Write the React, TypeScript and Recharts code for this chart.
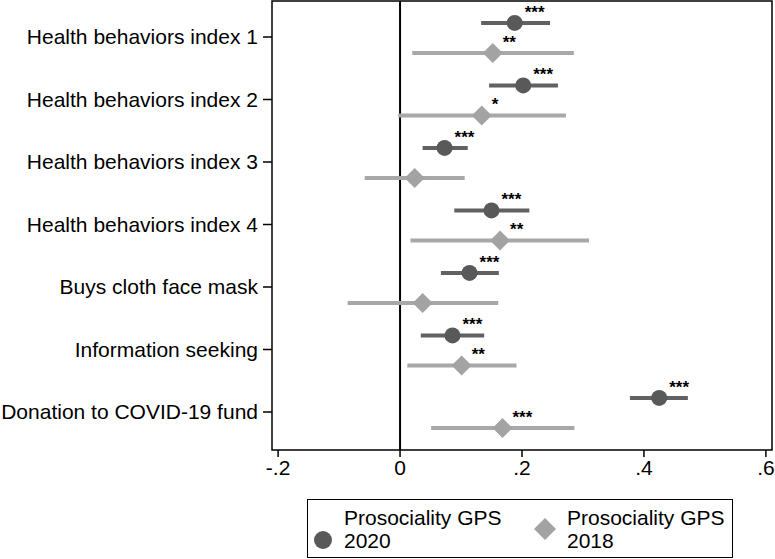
import React from 'react';
import {
  ScatterChart,
  Scatter,
  XAxis,
  YAxis,
  ErrorBar,
  ReferenceLine,
  ReferenceArea
} from 'recharts';

const categories = [
  'Health behaviors index 1',
  'Health behaviors index 2',
  'Health behaviors index 3',
  'Health behaviors index 4',
  'Buys cloth face mask',
  'Information seeking',
  'Donation to COVID-19 fund'
];

// Prosociality GPS 2020: point estimate and 95% CI
const est2020 = [0.188, 0.202, 0.073, 0.15, 0.114, 0.086, 0.425];
const lo2020 = [0.133, 0.146, 0.037, 0.089, 0.067, 0.034, 0.377];
const hi2020 = [0.246, 0.259, 0.111, 0.212, 0.162, 0.138, 0.472];
const stars2020 = ['***', '***', '***', '***', '***', '***', '***'];

// Prosociality GPS 2018
const est2018 = [0.152, 0.134, 0.024, 0.164, 0.037, 0.101, 0.168];
const lo2018 = [0.02, -0.003, -0.058, 0.017, -0.086, 0.012, 0.051];
const hi2018 = [0.285, 0.272, 0.106, 0.31, 0.161, 0.191, 0.286];
const stars2018 = ['**', '*', '', '**', '', '**', '***'];

const xTicks = [-0.2, 0, 0.2, 0.4, 0.6];
const yTicks = [1, 2, 3, 4, 5, 6, 7];

const FONT = '"Liberation Sans", Arial, sans-serif';
const DARK = '#595959';
const DARK_LINE = '#616161';
const LIGHT = '#a3a3a3';
const LIGHT_LINE = '#a8a8a8';

// small vertical offsets so both estimates sit around the category tick
const data2020 = est2020.map((v, i) => ({
  x: v,
  y: i + 1 - 0.225,
  err: [v - lo2020[i], hi2020[i] - v],
  stars: stars2020[i]
}));
const data2018 = est2018.map((v, i) => ({
  x: v,
  y: i + 1 + 0.255,
  err: [v - lo2018[i], hi2018[i] - v],
  stars: stars2018[i]
}));

const fmtX = (v: number) => (v === 0 ? '0' : v.toFixed(1).replace('0.', '.'));

const Stars = ({ cx, cy, text }: any) =>
  text ? (
    <text x={cx + 10} y={cy - 5} fontSize={17} fontWeight="bold" fontFamily={FONT} fill="#000">
      {text}
    </text>
  ) : null;

const CircleMark = (p: any) => (
  <g>
    <circle cx={p.cx} cy={p.cy} r={8} fill={DARK} />
    <Stars cx={p.cx} cy={p.cy} text={p.payload.stars} />
  </g>
);

const DiamondMark = (p: any) => {
  const d = 10;
  return (
    <g>
      <polygon
        points={`${p.cx},${p.cy - d} ${p.cx + d},${p.cy} ${p.cx},${p.cy + d} ${p.cx - d},${p.cy}`}
        fill={LIGHT}
      />
      <Stars cx={p.cx} cy={p.cy} text={p.payload.stars} />
    </g>
  );
};

export default function App() {
  return (
    <div style={{ position: 'absolute', left: 0, top: 0, width: 775, height: 559, background: '#fff' }}>
      <ScatterChart width={775} height={559} margin={{ top: 1, right: 3, bottom: 79, left: 0 }}>
        <XAxis
          type="number"
          dataKey="x"
          domain={[-0.21, 0.61]}
          allowDataOverflow
          ticks={xTicks}
          tickFormatter={fmtX}
          axisLine={false}
          tickLine={{ stroke: '#000', strokeWidth: 1.5 }}
          tickSize={7}
          tickMargin={3}
          height={30}
          tick={{ fontSize: 21, fill: '#000', fontFamily: FONT }}
        />
        <YAxis
          type="number"
          dataKey="y"
          domain={[0.424, 7.608]}
          allowDataOverflow
          reversed
          ticks={yTicks}
          tickFormatter={(v: number) => categories[v - 1]}
          axisLine={false}
          tickLine={{ stroke: '#000', strokeWidth: 1.5 }}
          tickSize={9}
          tickMargin={5}
          width={272}
          tick={{ fontSize: 21, fill: '#000', fontFamily: FONT }}
        />
        <ReferenceArea
          x1={-0.21}
          x2={0.61}
          y1={0.424}
          y2={7.608}
          fill="none"
          stroke="#000"
          strokeWidth={1.5}
        />
        <ReferenceLine x={0} stroke="#000" strokeWidth={2} />
        <Scatter data={data2018} shape={DiamondMark} isAnimationActive={false}>
          <ErrorBar dataKey="err" direction="x" width={0} stroke={LIGHT_LINE} strokeWidth={4} />
        </Scatter>
        <Scatter data={data2020} shape={CircleMark} isAnimationActive={false}>
          <ErrorBar dataKey="err" direction="x" width={0} stroke={DARK_LINE} strokeWidth={4} />
        </Scatter>
      </ScatterChart>

      {/* legend box */}
      <div
        style={{
          position: 'absolute',
          left: 307,
          top: 499,
          width: 424,
          height: 57,
          border: '1px solid #000',
          fontFamily: FONT,
          fontSize: 21,
          lineHeight: '23px',
          color: '#000'
        }}
      >
        <svg width={424} height={57} style={{ position: 'absolute', left: 0, top: 0 }}>
          <circle cx={15} cy={40} r={9} fill={DARK} />
          <polygon points="237,18 248,29 237,40 226,29" fill={LIGHT} />
        </svg>
        <div style={{ position: 'absolute', left: 36, top: 6 }}>
          Prosociality GPS
          <br />
          2020
        </div>
        <div style={{ position: 'absolute', left: 259, top: 6 }}>
          Prosociality GPS
          <br />
          2018
        </div>
      </div>
    </div>
  );
}
